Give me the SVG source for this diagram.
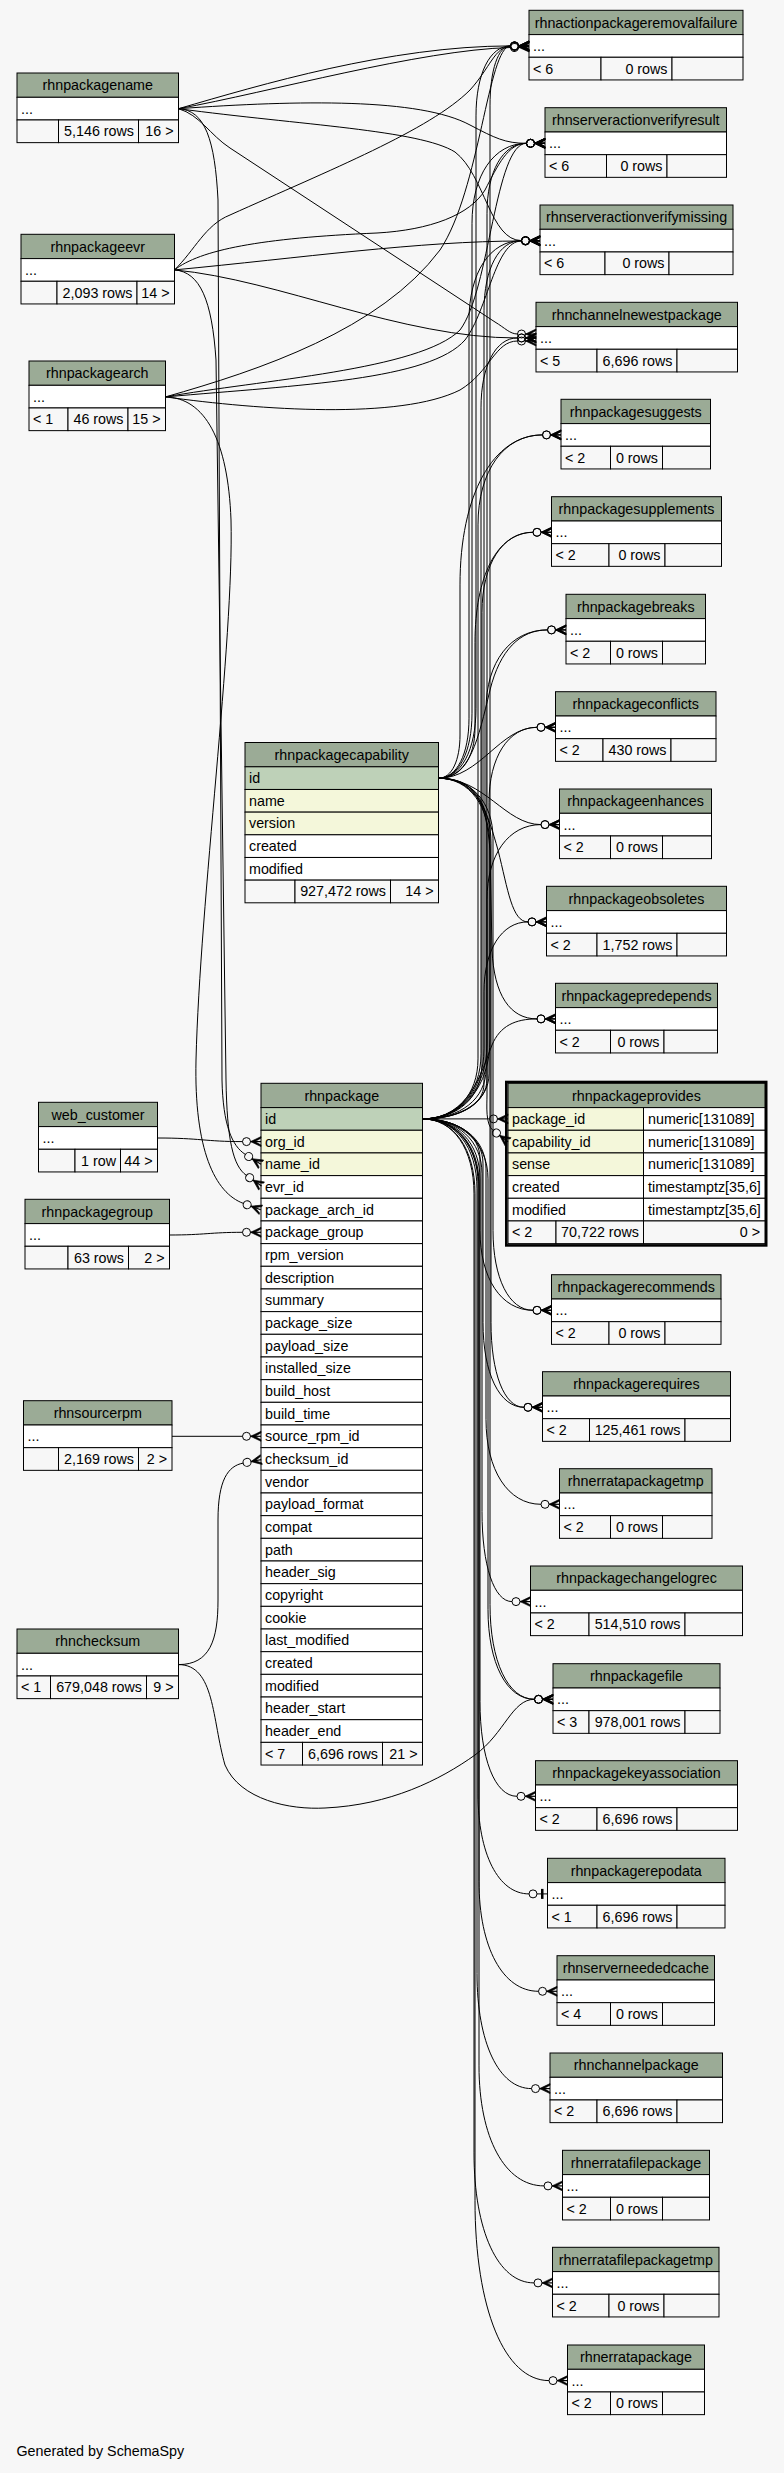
<svg xmlns="http://www.w3.org/2000/svg" width="784" height="2473" viewBox="0 0 784 2473">
<defs>
<style>
.h{fill:#9bab96;stroke:#000;stroke-width:1}
.pk{fill:#bed1b8;stroke:#000;stroke-width:1}
.ix{fill:#f4f7da;stroke:#000;stroke-width:1}
.w{fill:#ffffff;stroke:#000;stroke-width:1}
.f{fill:#f7f7f7;stroke:#000;stroke-width:1}
text{font-family:"Liberation Sans",Arial,Helvetica,sans-serif;font-size:14.3px;fill:#000}
.c{text-anchor:middle}
.r{text-anchor:end}
.e{fill:none;stroke:#000;stroke-width:1;marker-end:url(#cf)}
.t{fill:none;stroke:#000;stroke-width:1;marker-end:url(#tf)}
</style>
<marker id="cf" markerUnits="userSpaceOnUse" orient="auto" markerWidth="20" markerHeight="12" refX="0" refY="0" viewBox="0 -6 20 12" overflow="visible">
<circle cx="4" cy="0" r="4" fill="none" stroke="#000" stroke-width="1"/>
<polygon points="8,0 18.5,-5 18.5,-3.4 12.5,0 18.5,3.4 18.5,5" fill="#000" stroke="#000" stroke-width="0.6"/>
<line x1="8" y1="0" x2="18.5" y2="0" stroke="#000" stroke-width="1.2"/>
</marker>
<marker id="tf" markerUnits="userSpaceOnUse" orient="auto" markerWidth="20" markerHeight="12" refX="0" refY="0" viewBox="0 -6 20 12" overflow="visible">
<circle cx="4" cy="0" r="4" fill="none" stroke="#000" stroke-width="1"/>
<line x1="8" y1="0" x2="18.5" y2="0" stroke="#000" stroke-width="1"/>
<rect x="12" y="-5" width="2.5" height="10" fill="#000"/>
</marker>
</defs>
<rect x="0" y="0" width="784" height="2473" fill="#f7f7f7"/>

<!-- LEFT TABLES -->
<g id="rhnpackagename">
<rect class="h" x="17" y="73" width="161.5" height="24.3"/><text class="c" x="97.75" y="90.3">rhnpackagename</text>
<rect class="w" x="17" y="97.3" width="161.5" height="22.67"/><text x="21" y="113.6">...</text>
<rect class="f" x="17" y="119.97" width="41.5" height="22.67"/><rect class="f" x="58.5" y="119.97" width="80" height="22.67"/><rect class="f" x="138.5" y="119.97" width="40" height="22.67"/>
<text class="r" x="134" y="136.3">5,146 rows</text><text class="r" x="173.5" y="136.3">16 &gt;</text>
</g>
<g id="rhnpackageevr">
<rect class="h" x="21" y="234.3" width="153.5" height="24.3"/><text class="c" x="97.75" y="251.6">rhnpackageevr</text>
<rect class="w" x="21" y="258.6" width="153.5" height="22.67"/><text x="25" y="274.9">...</text>
<rect class="f" x="21" y="281.27" width="36" height="22.67"/><rect class="f" x="57" y="281.27" width="80" height="22.67"/><rect class="f" x="137" y="281.27" width="37.5" height="22.67"/>
<text class="r" x="132.5" y="297.6">2,093 rows</text><text class="r" x="169.5" y="297.6">14 &gt;</text>
</g>
<g id="rhnpackagearch">
<rect class="h" x="29" y="361" width="136.5" height="24.3"/><text class="c" x="97.25" y="378.3">rhnpackagearch</text>
<rect class="w" x="29" y="385.3" width="136.5" height="22.67"/><text x="33" y="401.6">...</text>
<rect class="f" x="29" y="407.97" width="39" height="22.67"/><rect class="f" x="68" y="407.97" width="60" height="22.67"/><rect class="f" x="128" y="407.97" width="37.5" height="22.67"/>
<text x="33" y="424.3">&lt; 1</text><text class="r" x="123.5" y="424.3">46 rows</text><text class="r" x="160.5" y="424.3">15 &gt;</text>
</g>
<g id="web_customer">
<rect class="h" x="38.5" y="1102.3" width="119" height="24.3"/><text class="c" x="98" y="1119.6">web_customer</text>
<rect class="w" x="38.5" y="1126.6" width="119" height="22.67"/><text x="42.5" y="1142.9">...</text>
<rect class="f" x="38.5" y="1149.27" width="36.5" height="22.67"/><rect class="f" x="75" y="1149.27" width="45.5" height="22.67"/><rect class="f" x="120.5" y="1149.27" width="37" height="22.67"/>
<text class="r" x="116" y="1165.6">1 row</text><text class="r" x="152.5" y="1165.6">44 &gt;</text>
</g>
<g id="rhnpackagegroup">
<rect class="h" x="25" y="1199.3" width="144.5" height="24.3"/><text class="c" x="97.25" y="1216.6">rhnpackagegroup</text>
<rect class="w" x="25" y="1223.6" width="144.5" height="22.67"/><text x="29" y="1239.9">...</text>
<rect class="f" x="25" y="1246.27" width="43" height="22.67"/><rect class="f" x="68" y="1246.27" width="60.5" height="22.67"/><rect class="f" x="128.5" y="1246.27" width="41" height="22.67"/>
<text class="r" x="124" y="1262.6">63 rows</text><text class="r" x="164.5" y="1262.6">2 &gt;</text>
</g>
<g id="rhnsourcerpm">
<rect class="h" x="23.5" y="1400.7" width="148.5" height="24.3"/><text class="c" x="97.75" y="1418">rhnsourcerpm</text>
<rect class="w" x="23.5" y="1425" width="148.5" height="22.67"/><text x="27.5" y="1441.3">...</text>
<rect class="f" x="23.5" y="1447.67" width="35" height="22.67"/><rect class="f" x="58.5" y="1447.67" width="80" height="22.67"/><rect class="f" x="138.5" y="1447.67" width="33.5" height="22.67"/>
<text class="r" x="134" y="1464">2,169 rows</text><text class="r" x="167" y="1464">2 &gt;</text>
</g>
<g id="rhnchecksum">
<rect class="h" x="17" y="1629" width="161.5" height="24.3"/><text class="c" x="97.75" y="1646.3">rhnchecksum</text>
<rect class="w" x="17" y="1653.3" width="161.5" height="22.67"/><text x="21" y="1669.6">...</text>
<rect class="f" x="17" y="1675.97" width="33.5" height="22.67"/><rect class="f" x="50.5" y="1675.97" width="96" height="22.67"/><rect class="f" x="146.5" y="1675.97" width="32" height="22.67"/>
<text x="21" y="1692.3">&lt; 1</text><text class="r" x="142" y="1692.3">679,048 rows</text><text class="r" x="173.5" y="1692.3">9 &gt;</text>
</g>

<!-- MIDDLE TABLES -->
<g id="rhnpackagecapability">
<rect class="h" x="245" y="742.5" width="193.5" height="24.3"/><text class="c" x="341.75" y="759.8">rhnpackagecapability</text>
<rect class="pk" x="245" y="766.8" width="193.5" height="22.67"/><text x="249" y="783.1">id</text>
<rect class="ix" x="245" y="789.47" width="193.5" height="22.67"/><text x="249" y="805.8">name</text>
<rect class="ix" x="245" y="812.13" width="193.5" height="22.67"/><text x="249" y="828.4">version</text>
<rect class="w" x="245" y="834.8" width="193.5" height="22.67"/><text x="249" y="851.1">created</text>
<rect class="w" x="245" y="857.47" width="193.5" height="22.67"/><text x="249" y="873.8">modified</text>
<rect class="f" x="245" y="880.13" width="50" height="22.67"/><rect class="f" x="295" y="880.13" width="95.5" height="22.67"/><rect class="f" x="390.5" y="880.13" width="48" height="22.67"/>
<text class="r" x="386" y="896.4">927,472 rows</text><text class="r" x="433.5" y="896.4">14 &gt;</text>
</g>
<g id="rhnpackage">
<rect class="h" x="261" y="1083.3" width="161.5" height="24.3"/><text class="c" x="341.75" y="1100.6">rhnpackage</text>
<rect class="pk" x="261" y="1107.6" width="161.5" height="22.67"/><text x="265" y="1123.9">id</text>
<rect class="ix" x="261" y="1130.27" width="161.5" height="22.67"/><text x="265" y="1146.57">org_id</text>
<rect class="ix" x="261" y="1152.94" width="161.5" height="22.67"/><text x="265" y="1169.24">name_id</text>
<rect class="w" x="261" y="1175.61" width="161.5" height="22.67"/><text x="265" y="1191.91">evr_id</text>
<rect class="w" x="261" y="1198.28" width="161.5" height="22.67"/><text x="265" y="1214.58">package_arch_id</text>
<rect class="w" x="261" y="1220.95" width="161.5" height="22.67"/><text x="265" y="1237.25">package_group</text>
<rect class="w" x="261" y="1243.62" width="161.5" height="22.67"/><text x="265" y="1259.92">rpm_version</text>
<rect class="w" x="261" y="1266.29" width="161.5" height="22.67"/><text x="265" y="1282.59">description</text>
<rect class="w" x="261" y="1288.96" width="161.5" height="22.67"/><text x="265" y="1305.26">summary</text>
<rect class="w" x="261" y="1311.63" width="161.5" height="22.67"/><text x="265" y="1327.93">package_size</text>
<rect class="w" x="261" y="1334.3" width="161.5" height="22.67"/><text x="265" y="1350.6">payload_size</text>
<rect class="w" x="261" y="1356.97" width="161.5" height="22.67"/><text x="265" y="1373.27">installed_size</text>
<rect class="w" x="261" y="1379.64" width="161.5" height="22.67"/><text x="265" y="1395.94">build_host</text>
<rect class="w" x="261" y="1402.31" width="161.5" height="22.67"/><text x="265" y="1418.61">build_time</text>
<rect class="w" x="261" y="1424.98" width="161.5" height="22.67"/><text x="265" y="1441.28">source_rpm_id</text>
<rect class="w" x="261" y="1447.65" width="161.5" height="22.67"/><text x="265" y="1463.95">checksum_id</text>
<rect class="w" x="261" y="1470.32" width="161.5" height="22.67"/><text x="265" y="1486.62">vendor</text>
<rect class="w" x="261" y="1492.99" width="161.5" height="22.67"/><text x="265" y="1509.29">payload_format</text>
<rect class="w" x="261" y="1515.66" width="161.5" height="22.67"/><text x="265" y="1531.96">compat</text>
<rect class="w" x="261" y="1538.33" width="161.5" height="22.67"/><text x="265" y="1554.63">path</text>
<rect class="w" x="261" y="1561" width="161.5" height="22.67"/><text x="265" y="1577.3">header_sig</text>
<rect class="w" x="261" y="1583.67" width="161.5" height="22.67"/><text x="265" y="1599.97">copyright</text>
<rect class="w" x="261" y="1606.34" width="161.5" height="22.67"/><text x="265" y="1622.64">cookie</text>
<rect class="w" x="261" y="1629.01" width="161.5" height="22.67"/><text x="265" y="1645.31">last_modified</text>
<rect class="w" x="261" y="1651.68" width="161.5" height="22.67"/><text x="265" y="1667.98">created</text>
<rect class="w" x="261" y="1674.35" width="161.5" height="22.67"/><text x="265" y="1690.65">modified</text>
<rect class="w" x="261" y="1697.02" width="161.5" height="22.67"/><text x="265" y="1713.32">header_start</text>
<rect class="w" x="261" y="1719.69" width="161.5" height="22.67"/><text x="265" y="1735.99">header_end</text>
<rect class="f" x="261" y="1742.36" width="41.5" height="22.67"/><rect class="f" x="302.5" y="1742.36" width="80" height="22.67"/><rect class="f" x="382.5" y="1742.36" width="40" height="22.67"/>
<text x="265" y="1758.66">&lt; 7</text><text class="r" x="378" y="1758.66">6,696 rows</text><text class="r" x="417.5" y="1758.66">21 &gt;</text>
</g>
<g id="rhnpackageprovides">
<rect x="506.3" y="1082" width="259.9" height="163.4" fill="none" stroke="#000" stroke-width="2.6"/>
<rect class="h" x="508" y="1083.3" width="257" height="24.3"/><text class="c" x="636.5" y="1100.6">rhnpackageprovides</text>
<rect class="ix" x="508" y="1107.6" width="135.5" height="22.67"/><text x="512" y="1123.9">package_id</text>
<rect class="w" x="643.5" y="1107.6" width="121.5" height="22.67"/><text x="648" y="1123.9">numeric[131089]</text>
<rect class="ix" x="508" y="1130.27" width="135.5" height="22.67"/><text x="512" y="1146.57">capability_id</text>
<rect class="w" x="643.5" y="1130.27" width="121.5" height="22.67"/><text x="648" y="1146.57">numeric[131089]</text>
<rect class="ix" x="508" y="1152.94" width="135.5" height="22.67"/><text x="512" y="1169.24">sense</text>
<rect class="w" x="643.5" y="1152.94" width="121.5" height="22.67"/><text x="648" y="1169.24">numeric[131089]</text>
<rect class="w" x="508" y="1175.61" width="135.5" height="22.67"/><text x="512" y="1191.91">created</text>
<rect class="w" x="643.5" y="1175.61" width="121.5" height="22.67"/><text x="648" y="1191.91">timestamptz[35,6]</text>
<rect class="w" x="508" y="1198.28" width="135.5" height="22.67"/><text x="512" y="1214.58">modified</text>
<rect class="w" x="643.5" y="1198.28" width="121.5" height="22.67"/><text x="648" y="1214.58">timestamptz[35,6]</text>
<rect class="f" x="508" y="1220.95" width="48" height="22.67"/><rect class="f" x="556" y="1220.95" width="87.5" height="22.67"/><rect class="f" x="643.5" y="1220.95" width="121.5" height="22.67"/>
<text x="512" y="1237.25">&lt; 2</text><text class="r" x="639" y="1237.25">70,722 rows</text><text class="r" x="760" y="1237.25">0 &gt;</text>
</g>

<!-- RIGHT TABLES -->
<g id="rhnactionpackageremovalfailure">
<rect class="h" x="529" y="10.3" width="214" height="24.3"/><text class="c" x="636" y="27.6">rhnactionpackageremovalfailure</text>
<rect class="w" x="529" y="34.6" width="214" height="22.67"/><text x="533" y="50.9">...</text>
<rect class="f" x="529" y="57.27" width="72" height="22.67"/><rect class="f" x="601" y="57.27" width="71" height="22.67"/><rect class="f" x="672" y="57.27" width="71" height="22.67"/>
<text x="533" y="73.6">&lt; 6</text><text class="r" x="667.5" y="73.6">0 rows</text>
</g>
<g id="rhnserveractionverifyresult">
<rect class="h" x="545" y="107.7" width="181.5" height="24.3"/><text class="c" x="635.75" y="125">rhnserveractionverifyresult</text>
<rect class="w" x="545" y="132" width="181.5" height="22.67"/><text x="549" y="148.3">...</text>
<rect class="f" x="545" y="154.67" width="61.5" height="22.67"/><rect class="f" x="606.5" y="154.67" width="60.5" height="22.67"/><rect class="f" x="667" y="154.67" width="59.5" height="22.67"/>
<text x="549" y="171">&lt; 6</text><text class="r" x="662.5" y="171">0 rows</text>
</g>
<g id="rhnserveractionverifymissing">
<rect class="h" x="540" y="205" width="193" height="24.3"/><text class="c" x="636.5" y="222.3">rhnserveractionverifymissing</text>
<rect class="w" x="540" y="229.3" width="193" height="22.67"/><text x="544" y="245.6">...</text>
<rect class="f" x="540" y="251.97" width="65" height="22.67"/><rect class="f" x="605" y="251.97" width="64" height="22.67"/><rect class="f" x="669" y="251.97" width="64" height="22.67"/>
<text x="544" y="268.3">&lt; 6</text><text class="r" x="664.5" y="268.3">0 rows</text>
</g>
<g id="rhnchannelnewestpackage">
<rect class="h" x="536" y="302.3" width="201.5" height="24.3"/><text class="c" x="636.75" y="319.6">rhnchannelnewestpackage</text>
<rect class="w" x="536" y="326.6" width="201.5" height="22.67"/><text x="540" y="342.9">...</text>
<rect class="f" x="536" y="349.27" width="61" height="22.67"/><rect class="f" x="597" y="349.27" width="80" height="22.67"/><rect class="f" x="677" y="349.27" width="60.5" height="22.67"/>
<text x="540" y="365.6">&lt; 5</text><text class="r" x="672.5" y="365.6">6,696 rows</text>
</g>
<g id="rhnpackagesuggests">
<rect class="h" x="561" y="399.3" width="149.5" height="24.3"/><text class="c" x="635.75" y="416.6">rhnpackagesuggests</text>
<rect class="w" x="561" y="423.6" width="149.5" height="22.67"/><text x="565" y="439.9">...</text>
<rect class="f" x="561" y="446.27" width="49.5" height="22.67"/><rect class="f" x="610.5" y="446.27" width="52" height="22.67"/><rect class="f" x="662.5" y="446.27" width="48" height="22.67"/>
<text x="565" y="462.6">&lt; 2</text><text class="r" x="658" y="462.6">0 rows</text>
</g>
<g id="rhnpackagesupplements">
<rect class="h" x="551.5" y="496.7" width="170" height="24.3"/><text class="c" x="636.5" y="514">rhnpackagesupplements</text>
<rect class="w" x="551.5" y="521" width="170" height="22.67"/><text x="555.5" y="537.3">...</text>
<rect class="f" x="551.5" y="543.67" width="57.5" height="22.67"/><rect class="f" x="609" y="543.67" width="56" height="22.67"/><rect class="f" x="665" y="543.67" width="56.5" height="22.67"/>
<text x="555.5" y="560">&lt; 2</text><text class="r" x="660.5" y="560">0 rows</text>
</g>
<g id="rhnpackagebreaks">
<rect class="h" x="566" y="594.3" width="139.5" height="24.3"/><text class="c" x="635.75" y="611.6">rhnpackagebreaks</text>
<rect class="w" x="566" y="618.6" width="139.5" height="22.67"/><text x="570" y="634.9">...</text>
<rect class="f" x="566" y="641.27" width="44.5" height="22.67"/><rect class="f" x="610.5" y="641.27" width="52" height="22.67"/><rect class="f" x="662.5" y="641.27" width="43" height="22.67"/>
<text x="570" y="657.6">&lt; 2</text><text class="r" x="658" y="657.6">0 rows</text>
</g>
<g id="rhnpackageconflicts">
<rect class="h" x="555.5" y="691.7" width="160.5" height="24.3"/><text class="c" x="635.75" y="709">rhnpackageconflicts</text>
<rect class="w" x="555.5" y="716" width="160.5" height="22.67"/><text x="559.5" y="732.3">...</text>
<rect class="f" x="555.5" y="738.67" width="47.5" height="22.67"/><rect class="f" x="603" y="738.67" width="68" height="22.67"/><rect class="f" x="671" y="738.67" width="45" height="22.67"/>
<text x="559.5" y="755">&lt; 2</text><text class="r" x="666.5" y="755">430 rows</text>
</g>
<g id="rhnpackageenhances">
<rect class="h" x="559.5" y="789" width="152" height="24.3"/><text class="c" x="635.5" y="806.3">rhnpackageenhances</text>
<rect class="w" x="559.5" y="813.3" width="152" height="22.67"/><text x="563.5" y="829.6">...</text>
<rect class="f" x="559.5" y="835.97" width="51" height="22.67"/><rect class="f" x="610.5" y="835.97" width="52" height="22.67"/><rect class="f" x="662.5" y="835.97" width="49" height="22.67"/>
<text x="563.5" y="852.3">&lt; 2</text><text class="r" x="658" y="852.3">0 rows</text>
</g>
<g id="rhnpackageobsoletes">
<rect class="h" x="546.5" y="886.3" width="180" height="24.3"/><text class="c" x="636.5" y="903.6">rhnpackageobsoletes</text>
<rect class="w" x="546.5" y="910.6" width="180" height="22.67"/><text x="550.5" y="926.9">...</text>
<rect class="f" x="546.5" y="933.27" width="50.5" height="22.67"/><rect class="f" x="597" y="933.27" width="80" height="22.67"/><rect class="f" x="677" y="933.27" width="49.5" height="22.67"/>
<text x="550.5" y="949.6">&lt; 2</text><text class="r" x="672.5" y="949.6">1,752 rows</text>
</g>
<g id="rhnpackagepredepends">
<rect class="h" x="555.5" y="983.3" width="162" height="24.3"/><text class="c" x="636.5" y="1000.6">rhnpackagepredepends</text>
<rect class="w" x="555.5" y="1007.6" width="162" height="22.67"/><text x="559.5" y="1023.9">...</text>
<rect class="f" x="555.5" y="1030.27" width="55" height="22.67"/><rect class="f" x="610.5" y="1030.27" width="53.5" height="22.67"/><rect class="f" x="664" y="1030.27" width="53.5" height="22.67"/>
<text x="559.5" y="1046.6">&lt; 2</text><text class="r" x="659.5" y="1046.6">0 rows</text>
</g>
<g id="rhnpackagerecommends">
<rect class="h" x="551.5" y="1274.7" width="169.5" height="24.3"/><text class="c" x="636.25" y="1292">rhnpackagerecommends</text>
<rect class="w" x="551.5" y="1299" width="169.5" height="22.67"/><text x="555.5" y="1315.3">...</text>
<rect class="f" x="551.5" y="1321.67" width="57.5" height="22.67"/><rect class="f" x="609" y="1321.67" width="56" height="22.67"/><rect class="f" x="665" y="1321.67" width="56" height="22.67"/>
<text x="555.5" y="1338">&lt; 2</text><text class="r" x="660.5" y="1338">0 rows</text>
</g>
<g id="rhnpackagerequires">
<rect class="h" x="542.5" y="1371.7" width="188" height="24.3"/><text class="c" x="636.5" y="1389">rhnpackagerequires</text>
<rect class="w" x="542.5" y="1396" width="188" height="22.67"/><text x="546.5" y="1412.3">...</text>
<rect class="f" x="542.5" y="1418.67" width="47" height="22.67"/><rect class="f" x="589.5" y="1418.67" width="95.5" height="22.67"/><rect class="f" x="685" y="1418.67" width="45.5" height="22.67"/>
<text x="546.5" y="1435">&lt; 2</text><text class="r" x="680.5" y="1435">125,461 rows</text>
</g>
<g id="rhnerratapackagetmp">
<rect class="h" x="559.5" y="1468.7" width="152.5" height="24.3"/><text class="c" x="635.75" y="1486">rhnerratapackagetmp</text>
<rect class="w" x="559.5" y="1493" width="152.5" height="22.67"/><text x="563.5" y="1509.3">...</text>
<rect class="f" x="559.5" y="1515.67" width="51" height="22.67"/><rect class="f" x="610.5" y="1515.67" width="52" height="22.67"/><rect class="f" x="662.5" y="1515.67" width="49.5" height="22.67"/>
<text x="563.5" y="1532">&lt; 2</text><text class="r" x="658" y="1532">0 rows</text>
</g>
<g id="rhnpackagechangelogrec">
<rect class="h" x="530.5" y="1566" width="212" height="24.3"/><text class="c" x="636.5" y="1583.3">rhnpackagechangelogrec</text>
<rect class="w" x="530.5" y="1590.3" width="212" height="22.67"/><text x="534.5" y="1606.6">...</text>
<rect class="f" x="530.5" y="1612.97" width="58.5" height="22.67"/><rect class="f" x="589" y="1612.97" width="96" height="22.67"/><rect class="f" x="685" y="1612.97" width="57.5" height="22.67"/>
<text x="534.5" y="1629.3">&lt; 2</text><text class="r" x="680.5" y="1629.3">514,510 rows</text>
</g>
<g id="rhnpackagefile">
<rect class="h" x="553" y="1663.7" width="167" height="24.3"/><text class="c" x="636.5" y="1681">rhnpackagefile</text>
<rect class="w" x="553" y="1688" width="167" height="22.67"/><text x="557" y="1704.3">...</text>
<rect class="f" x="553" y="1710.67" width="36" height="22.67"/><rect class="f" x="589" y="1710.67" width="96" height="22.67"/><rect class="f" x="685" y="1710.67" width="35" height="22.67"/>
<text x="557" y="1727">&lt; 3</text><text class="r" x="680.5" y="1727">978,001 rows</text>
</g>
<g id="rhnpackagekeyassociation">
<rect class="h" x="535.5" y="1760.7" width="202" height="24.3"/><text class="c" x="636.5" y="1778">rhnpackagekeyassociation</text>
<rect class="w" x="535.5" y="1785" width="202" height="22.67"/><text x="539.5" y="1801.3">...</text>
<rect class="f" x="535.5" y="1807.67" width="61.5" height="22.67"/><rect class="f" x="597" y="1807.67" width="80" height="22.67"/><rect class="f" x="677" y="1807.67" width="60.5" height="22.67"/>
<text x="539.5" y="1824">&lt; 2</text><text class="r" x="672.5" y="1824">6,696 rows</text>
</g>
<g id="rhnpackagerepodata">
<rect class="h" x="547.5" y="1858.3" width="177.5" height="24.3"/><text class="c" x="636.25" y="1875.6">rhnpackagerepodata</text>
<rect class="w" x="547.5" y="1882.6" width="177.5" height="22.67"/><text x="551.5" y="1898.9">...</text>
<rect class="f" x="547.5" y="1905.27" width="49.5" height="22.67"/><rect class="f" x="597" y="1905.27" width="80" height="22.67"/><rect class="f" x="677" y="1905.27" width="48" height="22.67"/>
<text x="551.5" y="1921.6">&lt; 1</text><text class="r" x="672.5" y="1921.6">6,696 rows</text>
</g>
<g id="rhnserverneededcache">
<rect class="h" x="557" y="1955.7" width="157.5" height="24.3"/><text class="c" x="635.75" y="1973">rhnserverneededcache</text>
<rect class="w" x="557" y="1980" width="157.5" height="22.67"/><text x="561" y="1996.3">...</text>
<rect class="f" x="557" y="2002.67" width="53.5" height="22.67"/><rect class="f" x="610.5" y="2002.67" width="52" height="22.67"/><rect class="f" x="662.5" y="2002.67" width="52" height="22.67"/>
<text x="561" y="2019">&lt; 4</text><text class="r" x="658" y="2019">0 rows</text>
</g>
<g id="rhnchannelpackage">
<rect class="h" x="550" y="2053" width="172.5" height="24.3"/><text class="c" x="636.25" y="2070.3">rhnchannelpackage</text>
<rect class="w" x="550" y="2077.3" width="172.5" height="22.67"/><text x="554" y="2093.6">...</text>
<rect class="f" x="550" y="2099.97" width="47" height="22.67"/><rect class="f" x="597" y="2099.97" width="80" height="22.67"/><rect class="f" x="677" y="2099.97" width="45.5" height="22.67"/>
<text x="554" y="2116.3">&lt; 2</text><text class="r" x="672.5" y="2116.3">6,696 rows</text>
</g>
<g id="rhnerratafilepackage">
<rect class="h" x="562.5" y="2150.3" width="147" height="24.3"/><text class="c" x="636" y="2167.6">rhnerratafilepackage</text>
<rect class="w" x="562.5" y="2174.6" width="147" height="22.67"/><text x="566.5" y="2190.9">...</text>
<rect class="f" x="562.5" y="2197.27" width="48" height="22.67"/><rect class="f" x="610.5" y="2197.27" width="52" height="22.67"/><rect class="f" x="662.5" y="2197.27" width="47" height="22.67"/>
<text x="566.5" y="2213.6">&lt; 2</text><text class="r" x="658" y="2213.6">0 rows</text>
</g>
<g id="rhnerratafilepackagetmp">
<rect class="h" x="552.5" y="2247.3" width="166.5" height="24.3"/><text class="c" x="635.75" y="2264.6">rhnerratafilepackagetmp</text>
<rect class="w" x="552.5" y="2271.6" width="166.5" height="22.67"/><text x="556.5" y="2287.9">...</text>
<rect class="f" x="552.5" y="2294.27" width="56.5" height="22.67"/><rect class="f" x="609" y="2294.27" width="55" height="22.67"/><rect class="f" x="664" y="2294.27" width="55" height="22.67"/>
<text x="556.5" y="2310.6">&lt; 2</text><text class="r" x="659.5" y="2310.6">0 rows</text>
</g>
<g id="rhnerratapackage">
<rect class="h" x="567.5" y="2345" width="137" height="24.3"/><text class="c" x="636" y="2362.3">rhnerratapackage</text>
<rect class="w" x="567.5" y="2369.3" width="137" height="22.67"/><text x="571.5" y="2385.6">...</text>
<rect class="f" x="567.5" y="2391.97" width="43" height="22.67"/><rect class="f" x="610.5" y="2391.97" width="52" height="22.67"/><rect class="f" x="662.5" y="2391.97" width="42" height="22.67"/>
<text x="571.5" y="2408.3">&lt; 2</text><text class="r" x="658" y="2408.3">0 rows</text>
</g>

<!-- CONNECTORS -->
<g id="connectors">
<!-- rhnpackagename -->
<path class="e" d="M178.5,108.7 C260,85 390,46 510.5,45.9"/>
<path class="e" d="M178.5,108.7 C270,92 420,50 510.5,47.5"/>
<path class="e" d="M178.5,108.7 C300,100 420,98 470,125 C495,138 505,143.3 526.5,143.3"/>
<path class="e" d="M178.5,108.7 C300,125 420,130 455,152 C485,175 490,240.6 521.5,240.6"/>
<path class="e" d="M178.5,108.7 C200,115 210,135 230,148 L495,322 C505,328 510,334 517.5,334"/>
<path class="e" d="M178.5,108.7 C205,110 215,140 218,200 L222,1080 C223,1125 232,1146 245.3,1154.4"/>
<!-- rhnpackageevr -->
<path class="e" d="M174.5,269.9 C195,250 205,225 230,215 C330,170 430,130 470,90 C490,68 495,46.5 510.5,46.5"/>
<path class="e" d="M174.5,269.9 C200,250 260,238 377,233 C430,230 470,215 485,190 C498,165 508,143.3 526.5,143.3"/>
<path class="e" d="M174.5,269.9 C300,258 420,241 521.5,241"/>
<path class="e" d="M174.5,269.9 C280,280 400,338 517.5,338"/>
<path class="e" d="M174.5,269.9 C200,272 212,300 216,360 L226,1080 C227,1140 233,1166 246.4,1175.4"/>
<!-- rhnpackagearch -->
<path class="e" d="M165.5,396.9 C260,370 380,330 440,250 C480,190 488,46 510.5,46"/>
<path class="e" d="M165.5,396.9 C260,380 420,370 460,330 C490,290 495,143.3 526.5,143.3"/>
<path class="e" d="M165.5,396.9 C300,385 430,380 465,340 C488,310 495,241 521.5,241"/>
<path class="e" d="M165.5,396.9 C260,410 400,420 460,390 C490,372 495,341 517.5,341"/>
<path class="e" d="M165.5,396.9 C205,398 228,440 231,520 C234,640 200,900 196,1060 C194,1150 215,1193 243.4,1203.4"/>
<!-- other parents -->
<path class="e" d="M157.5,1138 C200,1138 205,1141.6 242.5,1141.6"/>
<path class="e" d="M169.5,1235 C205,1235 210,1232.3 242.5,1232.3"/>
<path class="e" d="M172,1436.3 L242.5,1436.3"/>
<path class="e" d="M178.5,1664.6 C210,1664.6 218,1640 218,1600 L218,1520 C218,1480 228,1466 243.1,1463.1"/>
<path class="e" d="M178.5,1664.6 C215,1664.6 212,1720 225,1765 C240,1800 290,1810 325,1808 C390,1805 440,1780 475,1755 C505,1733 512,1699.3 534.5,1699.3"/>
<!-- rhnpackagecapability.id -->
<path class="e" d="M438.5,778.2 C461,778.2 476,750.2 476,708.2 L476,115.9 C476,73.9 489.8,45.9 510.5,45.9"/>
<path class="e" d="M438.5,778.2 C458.6,778.2 472,752.2 472,713.2 L472,223.3 C472,175.3 493.8,143.3 526.5,143.3"/>
<path class="e" d="M438.5,778.2 C456.8,778.2 469,754.2 469,718.2 L469,320.6 C469,272.6 490,240.6 521.5,240.6"/>
<path class="e" d="M438.5,778.2 C452,778.2 460,760 460,735 L460,584.9 C460,494.9 493,434.9 542.5,434.9"/>
<path class="e" d="M438.5,778.2 C461,778.2 475,758 475,728 L475,642.3 C475,576.3 497,532.3 533,532.3"/>
<path class="e" d="M438.5,778.2 C470,778.2 478,740 490,690 C500,650 520,629.9 547.5,629.9"/>
<path class="e" d="M438.5,778.2 C480,778.2 500,727.3 537,727.3"/>
<path class="e" d="M438.5,778.2 C485,778.2 505,824.6 541,824.6"/>
<path class="e" d="M438.5,778.2 C478,778.2 488,815 498,850 C508,890 512,921.9 528,921.9"/>
<path class="e" d="M438.5,778.2 C475,778.2 486,800 490,850 L492,950 C494,995 510,1018.9 537,1018.9"/>
<path class="e" d="M438.5,778.2 C468,778.2 487,795 487,830 L487,1095 C487,1105 485.2,1124.6 493.2,1130.6"/>
<path class="e" d="M438.5,778.2 C471.2,778.2 493,802.2 493,838.2 L493,1230.3 C493,1278.3 509,1310.3 533,1310.3"/>
<path class="e" d="M438.5,778.2 C470,778.2 491,804.2 491,843.2 L491,1322.3 C491,1373.3 504.2,1407.3 524,1407.3"/>
<path class="e" d="M438.5,778.2 C469.4,778.2 490,806.2 490,848.2 L490,1604.3 C490,1661.3 507.8,1699.3 534.5,1699.3"/>
<!-- rhnpackage.id -->
<path class="e" d="M422.5,1118.9 C463,1118.9 490,1087 490,1038.9 L490,105.9 C490,69.9 498.2,45.9 510.5,45.9"/>
<path class="e" d="M422.5,1118.9 C461,1118.9 487,1088.9 487,1043.9 L487,213.3 C487,171.3 502.8,143.3 526.5,143.3"/>
<path class="e" d="M422.5,1118.9 C459,1118.9 484,1090.9 484,1048.9 L484,310.6 C484,268.6 499,240.6 521.5,240.6"/>
<path class="e" d="M422.5,1118.9 C457.6,1118.9 481,1092.9 481,1053.9 L481,407.9 C481,365.9 495.6,337.9 517.5,337.9"/>
<path class="e" d="M422.5,1118.9 C455.8,1118.9 478,1094.9 478,1058.9 L478,524.9 C478,470.9 503.8,434.9 542.5,434.9"/>
<path class="e" d="M422.5,1118.9 C458.2,1118.9 482,1096.9 482,1063.9 L482,612.3 C482,564.3 502.4,532.3 533,532.3"/>
<path class="e" d="M422.5,1118.9 C460.6,1118.9 486,1098.9 486,1068.9 L486,709.9 C486,661.9 510.6,629.9 547.5,629.9"/>
<path class="e" d="M422.5,1118.9 C462.4,1118.9 489,1100.9 489,1073.9 L489,802.3 C489,757.3 508.2,727.3 537,727.3"/>
<path class="e" d="M422.5,1118.9 C461.2,1118.9 487,1102.9 487,1078.9 L487,899.6 C487,854.6 508.6,824.6 541,824.6"/>
<path class="e" d="M422.5,1118.9 C459.4,1118.9 484,1104.9 484,1083.9 L484,991.9 C484,949.9 501.6,921.9 528,921.9"/>
<path class="e" d="M422.5,1118.9 C470,1118.9 482,1070 492,1045 C500,1026 515,1018.9 537,1018.9"/>
<path class="e" d="M422.5,1118.9 L489.5,1118.9"/>
<path class="e" d="M422.5,1118.9 C457,1118.9 480,1134.9 480,1158.9 L480,1230.3 C480,1278.3 501.2,1310.3 533,1310.3"/>
<path class="e" d="M422.5,1118.9 C458.8,1118.9 483,1136.9 483,1163.9 L483,1322.3 C483,1373.3 499.4,1407.3 524,1407.3"/>
<path class="e" d="M422.5,1118.9 C460.6,1118.9 486,1138.9 486,1168.9 L486,1419.3 C486,1470.3 508,1504.3 541,1504.3"/>
<path class="e" d="M422.5,1118.9 C458.2,1118.9 482,1140.9 482,1173.9 L482,1511.6 C482,1565.6 494,1601.6 512,1601.6"/>
<path class="e" d="M422.5,1118.9 C461.8,1118.9 488,1142.9 488,1178.9 L488,1609.3 C488,1663.3 506.6,1699.3 534.5,1699.3"/>
<path class="e" d="M422.5,1118.9 C457,1118.9 480,1142.9 480,1178.9 L480,1701.3 C480,1758.3 494.8,1796.3 517,1796.3"/>
<path class="t" d="M422.5,1118.9 C455.8,1118.9 478,1144.9 478,1183.9 L478,1793.9 C478,1853.9 498.4,1893.9 529,1893.9"/>
<path class="e" d="M422.5,1118.9 C456.4,1118.9 479,1144.9 479,1183.9 L479,1881.3 C479,1947.3 502.8,1991.3 538.5,1991.3"/>
<path class="e" d="M422.5,1118.9 C455.2,1118.9 477,1146.9 477,1188.9 L477,1973.6 C477,2042.6 498.8,2088.6 531.5,2088.6"/>
<path class="e" d="M422.5,1118.9 C456.4,1118.9 479,1146.9 479,1188.9 L479,2065.9 C479,2137.9 505,2185.9 544,2185.9"/>
<path class="e" d="M422.5,1118.9 C453.4,1118.9 474,1148.9 474,1193.9 L474,2152.9 C474,2230.9 498,2282.9 534,2282.9"/>
<path class="e" d="M422.5,1118.9 C454,1118.9 475,1148.9 475,1193.9 L475,2200.6 C475,2308.6 504.6,2380.6 549,2380.6"/>
</g>

<text x="16.5" y="2455.5">Generated by SchemaSpy</text>
</svg>
